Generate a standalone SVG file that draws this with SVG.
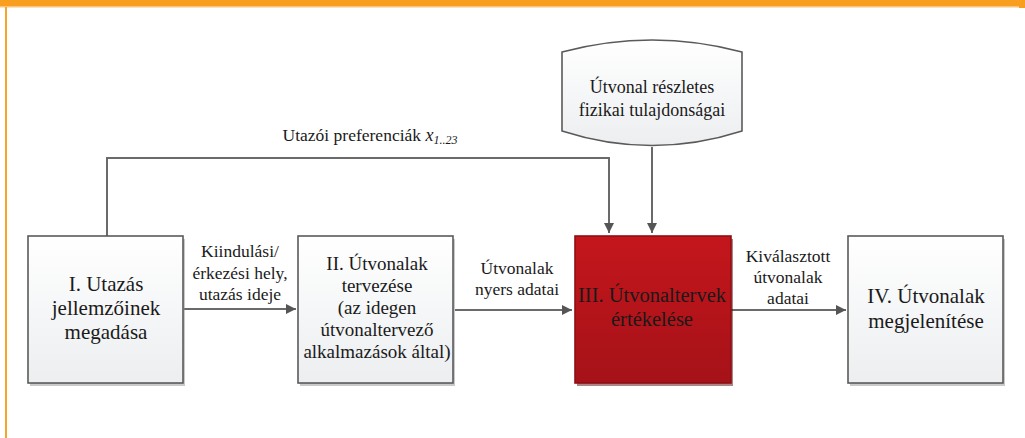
<svg xmlns="http://www.w3.org/2000/svg" width="1025" height="438" viewBox="0 0 1025 438" font-family="Liberation Serif">
<style>
text{fill:#1a1a1a;text-anchor:middle}
.box{font-size:19px}
.lbl{font-size:17.5px}
.b{stroke:#5a5a5a;stroke-width:1.6}
.c{fill:none;stroke:#6a6a6a;stroke-width:2}
.sh{fill:#888;opacity:0.45}
</style>
<defs>
<linearGradient id="gw" x1="0" y1="0" x2="0" y2="1">
<stop offset="0" stop-color="#ffffff"/><stop offset="1" stop-color="#eceef0"/>
</linearGradient>
<linearGradient id="gr" x1="0" y1="0" x2="0" y2="1">
<stop offset="0" stop-color="#c4161c"/><stop offset="1" stop-color="#a51218"/>
</linearGradient>
<marker id="ah" viewBox="0 0 10 10" refX="10" refY="5" markerWidth="5" markerHeight="5" orient="auto" markerUnits="strokeWidth">
<path d="M0,0 L10,5 L0,10 z" fill="#555"/>
</marker>
</defs>
<rect x="0" y="0" width="1025" height="438" fill="#fff"/>
<rect x="0" y="0" width="1025" height="6" fill="#f89f1f"/>
<rect x="0" y="6" width="1019" height="1.5" fill="#fbc47e"/>
<rect x="1019" y="6" width="6" height="2" fill="#f89f1f"/>
<rect x="5" y="7" width="2" height="431" fill="#f8a52a"/>

<g id="connectors" font-family="Liberation Serif">
<path class="c" d="M107,236 V158 H609 V233" marker-end="url(#ah)"/>
<path class="c" d="M652,147 V233" marker-end="url(#ah)"/>
<path class="c" d="M184,309 H296" marker-end="url(#ah)"/>
<path class="c" d="M455,310 H572" marker-end="url(#ah)"/>
<path class="c" d="M731,310 H846" marker-end="url(#ah)"/>
<text class="lbl" x="370" y="141">Utazói preferenciák <tspan font-style="italic" font-size="18px">x</tspan><tspan font-style="italic" font-size="12px" dy="3">1..23</tspan></text>
<text class="lbl" x="240" y="257">Kiindulási/</text>
<text class="lbl" x="240" y="279">érkezési hely,</text>
<text class="lbl" x="240" y="300">utazás ideje</text>
<text class="lbl" x="517" y="274">Útvonalak</text>
<text class="lbl" x="517" y="295">nyers adatai</text>
<text class="lbl" x="788" y="262">Kiválasztott</text>
<text class="lbl" x="788" y="283">útvonalak</text>
<text class="lbl" x="788" y="304">adatai</text>
</g>

<g id="n1" font-family="Liberation Serif">
<rect class="sh" x="30" y="239" width="155" height="147"/>
<rect class="b" x="28" y="236" width="155" height="147" fill="url(#gw)"/>
<text class="box" style="font-size:21px" x="106" y="291">I. Utazás</text>
<text class="box" style="font-size:21px" x="106" y="315">jellemzőinek</text>
<text class="box" style="font-size:21px" x="106" y="339">megadása</text>
</g>

<g id="n2" font-family="Liberation Serif">
<rect class="sh" x="300" y="239" width="155" height="147"/>
<rect class="b" x="298" y="236" width="155" height="147" fill="url(#gw)"/>
<text class="box" x="377" y="270">II. Útvonalak</text>
<text class="box" x="377" y="292">tervezése</text>
<text class="box" x="377" y="314">(az idegen</text>
<text class="box" x="377" y="336">útvonaltervező</text>
<text class="box" x="377" y="358">alkalmazások által)</text>
</g>

<g id="n3" font-family="Liberation Serif">
<rect x="577" y="239" width="156" height="147" fill="#5a0c0e" opacity="0.5"/>
<rect x="575" y="236" width="156" height="147" fill="url(#gr)" stroke="#8e1014" stroke-width="1.6"/>
<text class="box" style="font-size:20.5px" x="652" y="302">III. Útvonaltervek</text>
<text class="box" style="font-size:20.5px" x="652" y="326">értékelése</text>
</g>

<g id="n4" font-family="Liberation Serif">
<rect class="sh" x="850" y="239" width="155" height="147"/>
<rect class="b" x="848" y="236" width="155" height="147" fill="url(#gw)"/>
<text class="box" style="font-size:21px" x="926" y="303">IV. Útvonalak</text>
<text class="box" style="font-size:21px" x="926" y="328">megjelenítése</text>
</g>

<g id="n5" font-family="Liberation Serif">
<path class="b" d="M562,52 Q652,28 742,52 V131 Q652,160 562,131 Z" fill="url(#gw)"/>
<text class="box" style="font-size:18px" x="652" y="93">Útvonal részletes</text>
<text class="box" style="font-size:18px" x="652" y="116">fizikai tulajdonságai</text>
</g>
</svg>
